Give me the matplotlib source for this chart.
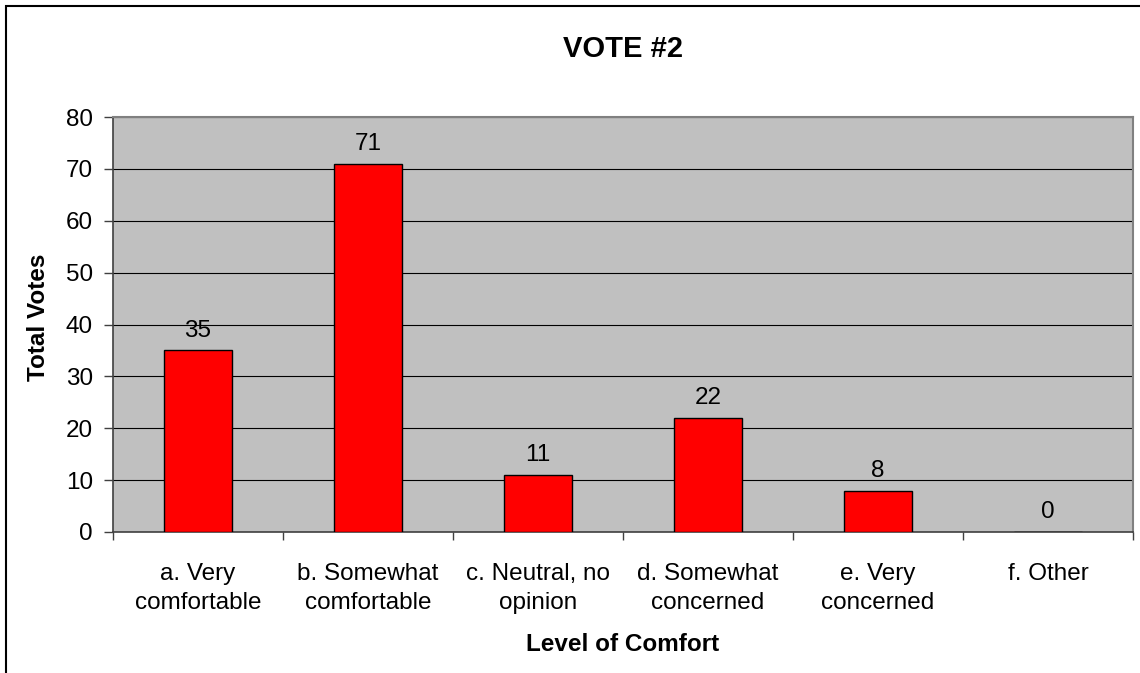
import matplotlib.pyplot as plt
from matplotlib.patches import Rectangle

plt.rcParams["font.family"] = ["Liberation Sans", "DejaVu Sans"]

categories = [
    "a. Very\ncomfortable",
    "b. Somewhat\ncomfortable",
    "c. Neutral, no\nopinion",
    "d. Somewhat\nconcerned",
    "e. Very\nconcerned",
    "f. Other",
]
votes = [35, 71, 11, 22, 8, 0]
y_ticks = [0, 10, 20, 30, 40, 50, 60, 70, 80]

fig = plt.figure(figsize=(11.4, 6.73), dpi=100)
ax = fig.add_axes([113 / 1140, 1 - 532 / 673, 1020 / 1140, 415 / 673])
ax.set_facecolor("#C0C0C0")

x = list(range(len(categories)))
ax.bar(x, votes, width=0.4, color="#FF0000", edgecolor="black", linewidth=1.0, zorder=3)

for xi, v in zip(x, votes):
    ax.annotate(str(v), (xi, v), xytext=(0, 10), textcoords="offset points",
                ha="center", va="baseline", fontsize=17.5)

ax.set_xlim(-0.5, len(categories) - 0.5)
ax.set_ylim(0, 80)
ax.set_yticks(y_ticks)
ax.yaxis.grid(True, color="black", linewidth=0.8, zorder=1)
ax.set_axisbelow(True)

# labels sit between the boundary ticks
ax.set_xticks([i - 0.5 for i in range(len(categories) + 1)])
ax.set_xticklabels([])
ax.set_xticks(x, minor=True)
ax.set_xticklabels(categories, minor=True, fontsize=17.5, linespacing=1.45)
ax.tick_params(axis="x", which="major", length=5.5, width=1, color="#404040")
ax.tick_params(axis="x", which="minor", length=0, pad=22)
ax.tick_params(axis="y", length=6.5, width=1, color="#404040", labelsize=17.5, pad=8)

for side in ["top", "right"]:
    ax.spines[side].set_color("#808080")
    ax.spines[side].set_linewidth(1.5)
for side in ["left", "bottom"]:
    ax.spines[side].set_color("#404040")
    ax.spines[side].set_linewidth(1.2)

ax.set_ylabel("Total Votes", fontsize=17.5, fontweight="bold", va="center")
ax.yaxis.set_label_coords(-0.0735, 0.518)
ax.set_xlabel("Level of Comfort", fontsize=17.5, fontweight="bold", va="center")
ax.xaxis.set_label_coords(0.5, -0.272)

fig.text(623 / 1140, 1 - 49 / 673, "VOTE #2", fontsize=21, fontweight="bold",
         ha="center", va="center")

fig.add_artist(Rectangle((6 / 1140, -0.1), 1.2, 1.1 - 6 / 673, transform=fig.transFigure,
                         fill=False, edgecolor="black", linewidth=1.5))

plt.savefig("out.png", dpi=100)
